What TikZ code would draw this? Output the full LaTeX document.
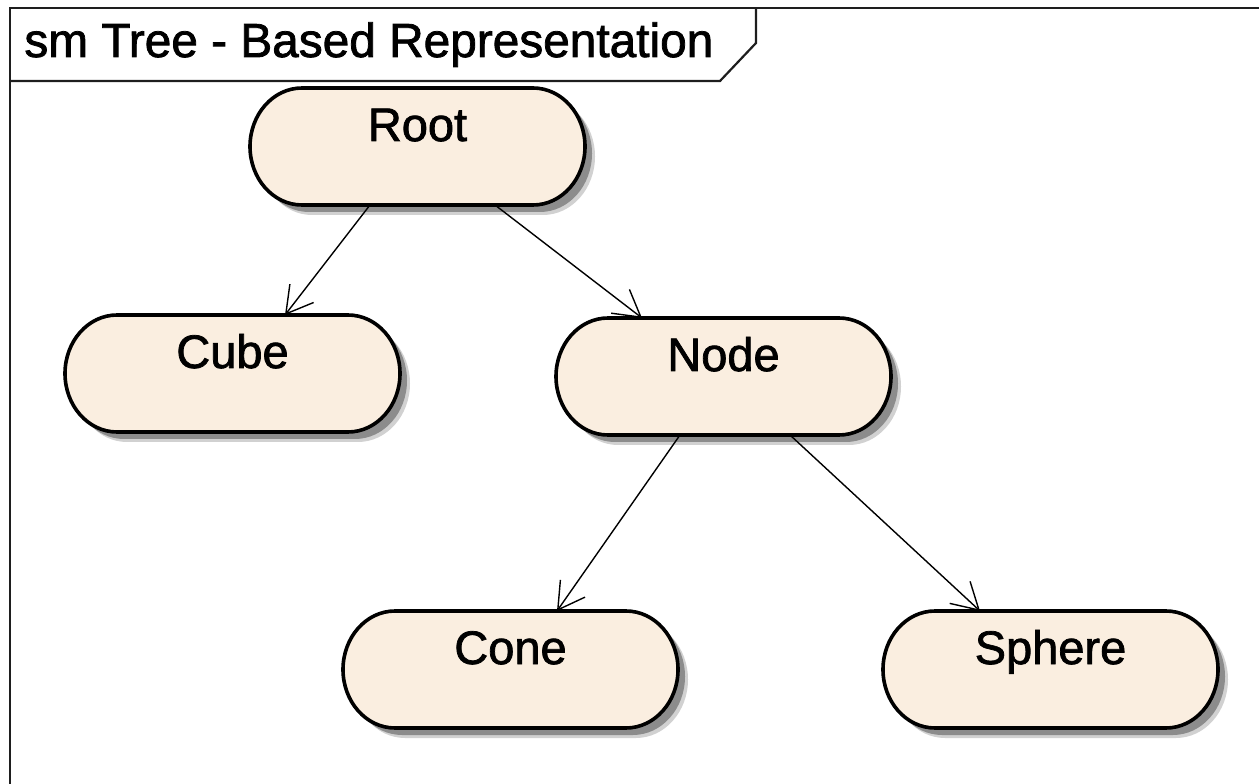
\documentclass[tikz,border=0pt]{standalone}
\usepackage{fontspec}
\setmainfont[FakeBold=1.6]{Liberation Sans}
\usetikzlibrary{calc,arrows.meta,backgrounds}

\definecolor{statefill}{RGB}{250,238,224}
\definecolor{framegray}{RGB}{30,30,30}

% outline of a state: flat top and bottom, elliptic ends
\newcommand\smoutline[2]{%
  ($(#1.north west)+(52,0)+(#2)$) -- ($(#1.north east)+(-52,0)+(#2)$)
  arc[start angle=90,end angle=-90,x radius=52,y radius=58.5]
  -- ($(#1.south west)+(52,0)+(#2)$)
  arc[start angle=270,end angle=90,x radius=52,y radius=58.5] -- cycle}

\tikzset{
  state/.style={rectangle, draw=none, inner sep=0pt, outer sep=0pt,
    minimum width=167.5pt, minimum height=58.5pt,
    font=\fontsize{23.5}{28}\selectfont,
    text height=17pt, text depth=22.5pt},
  link/.style={draw=black, line width=0.7pt,
    -{Straight Barb[length=13pt,width=15pt,line width=0.7pt]}},
  frameline/.style={draw=framegray, line width=1.1pt},
  titletext/.style={inner sep=0pt, anchor=base west,
    font=\fontsize{23.9}{28}\selectfont},
}

\begin{document}
\begin{tikzpicture}[x=0.5pt,y=0.5pt]
  \useasboundingbox (0,0) rectangle (1259,783);

  % diagram frame and its name tab
  \coordinate (frameTL) at (10,775);
  \coordinate (frameTR) at (1262,775);
  \coordinate (frameBL) at (10,-3);
  \draw[frameline] (frameTR) -- (frameTL) -- (frameBL);
  \coordinate (tabL) at (10,702);
  \coordinate (tabB) at (720,702);
  \coordinate (tabC) at (756,740);
  \coordinate (tabT) at (756,775);
  \draw[frameline] (tabL) -- (tabB) -- (tabC) -- (tabT);
  \node[titletext] (title) at (24,726) {sm Tree - Based Representation};

  % states
  \node[state] (root)   at (417.5,636.5) {Root};
  \node[state] (cube)   at (232.5,409.5) {Cube};
  \node[state] (inner)  at (723.5,406.5) {Node};
  \node[state] (cone)   at (510.5,113.5) {Cone};
  \node[state] (sphere) at (1050.5,113.5) {Sphere};

  \begin{scope}[on background layer]
    \foreach \n in {root,cube,inner,cone,sphere}{
      \fill[black!18] \smoutline{\n}{10,-10};
      \fill[black!45] \smoutline{\n}{7,-7};
      \path[fill=statefill, draw=black, line width=1.8pt] \smoutline{\n}{0,0};
    }
  \end{scope}

  % transitions
  \draw[link] ($(root.south)+(-47.5,0)$) -- ($(cube.north)+(52.5,0)$);
  \draw[link] ($(root.south)+(77.5,0)$) -- ($(inner.north)+(-81.5,0)$);
  \draw[link] ($(inner.south)+(-43.5,0)$) -- ($(cone.north)+(46.5,0)$);
  \draw[link] ($(inner.south)+(66.5,0)$) -- ($(sphere.north)+(-70.5,0)$);
\end{tikzpicture}
\end{document}
